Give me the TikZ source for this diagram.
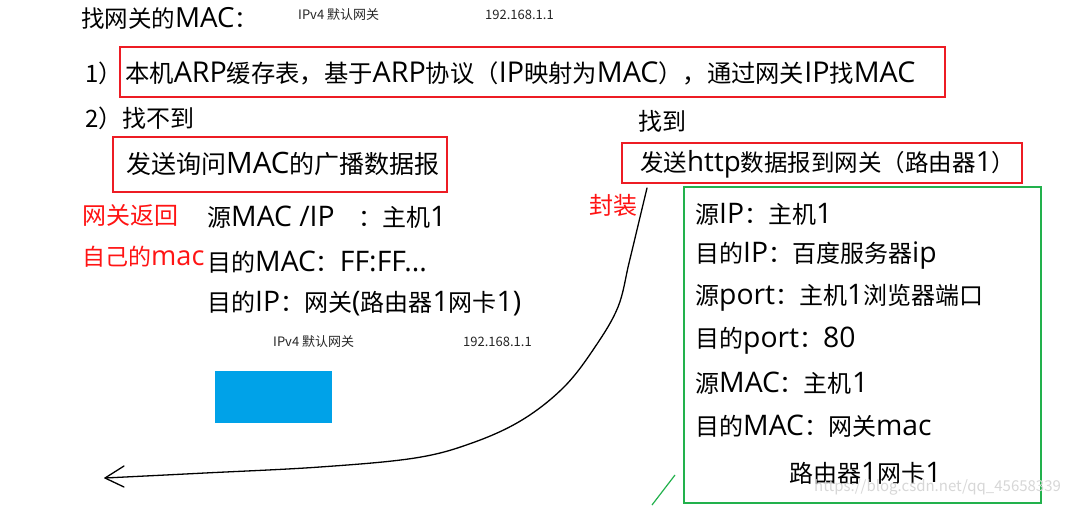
\documentclass[tikz,border=0pt]{standalone}
\usepackage{fontspec}
\setmainfont[Scale=1.18]{Open Sans}
\newfontfamily\cjk{Noto Sans CJK SC}
\newcommand\zh[1]{{\cjk #1}}
\definecolor{boxred}{RGB}{237,28,36}
\definecolor{txtred}{RGB}{255,20,20}
\definecolor{boxgreen}{RGB}{34,177,76}
\definecolor{blueblock}{RGB}{0,162,232}
\definecolor{wmgray}{RGB}{215,215,215}
\begin{document}
\begin{tikzpicture}[x=1pt,y=-1pt,
  big/.style={font=\fontsize{24}{28}\selectfont, anchor=west, inner sep=0pt, text=black},
  small/.style={font=\fontsize{13}{16}\selectfont\cjk, anchor=west, inner sep=0pt, text=black!85},
  redtxt/.style={big, text=txtred},
  redbox/.style={draw=boxred, line width=1.4pt},
  greenbox/.style={draw=boxgreen, line width=1.4pt},
  hand/.style={draw=black, line width=1.3pt, line cap=round, line join=round}]
\useasboundingbox (0,0) rectangle (1067,506);
\fill[white] (0,0) rectangle (1067,506);

% title
\node[big, font=\fontsize{23.5}{28}\selectfont] (title) at (81,18) {\zh{找网关的}MAC\zh{：}};
\node[small] (gw1) at (298,15) {IPv4 默认网关};
\node[small] (ip1) at (485,15) {192.168.1.1};

% step 1
\node[big] (n1) at (85,73) {\zh{1）}};
\draw[redbox] (120,47) rectangle (945,97);
\node[big, font=\fontsize{24.3}{28}\selectfont] (s1) at (125,73) {\zh{本机}ARP\zh{缓存表，基于}ARP\zh{协议（}IP\zh{映射为}MAC\zh{），通过网关}IP\zh{找}MAC};

% step 2
\node[big] (s2) at (85,118) {\zh{2）找不到}};
\draw[redbox] (113,137) rectangle (447,192);
\node[big, font=\fontsize{25}{28}\selectfont] (bc) at (126,164) {\zh{发送询问}MAC\zh{的广播数据报}};

% found
\node[big] (found) at (638,121) {\zh{找到}};
\draw[redbox] (622,143) rectangle (1022,183);
\node[big, font=\fontsize{23.5}{28}\selectfont] (send) at (640,164) {\zh{发送}http\zh{数据报到网关（路由器}1\zh{）}};

% red notes
\node[redtxt] (r1) at (82,215) {\zh{网关返回}};
\node[redtxt, font=\fontsize{23}{28}\selectfont] (r2) at (82,257) {\zh{自己的}mac};
\node[redtxt] (fz) at (589,205) {\zh{封装}};

% broadcast fields
\node[big] (f1) at (207,217) {\zh{源}MAC /IP};
\node[big] (f1b) at (358,217) {\zh{：主机}1};
\node[big] (f2) at (207,262) {\zh{目的}MAC\zh{：}FF:FF...};
\node[big] (f3) at (207,304) {\zh{目的}IP\zh{：网关}(\zh{路由器}1\zh{网卡}1)};
\node[small] (gw2) at (273,342) {IPv4 默认网关};
\node[small] (ip2) at (463,342) {192.168.1.1};

\fill[blueblock] (215,371) rectangle (332,423);

% green box
\draw[greenbox] (684,187) rectangle (1041,503);
\node[big] (g1) at (695,214) {\zh{源}IP\zh{：主机}1};
\node[big] (g2) at (695,256) {\zh{目的}IP\zh{：百度服务器}ip};
\node[big] (g3) at (695,298) {\zh{源}port\zh{：主机}1\zh{浏览器端口}};
\node[big] (g4) at (695,341) {\zh{目的}port\zh{：}80};
\node[big] (g5) at (695,383) {\zh{源}MAC\zh{：主机}1};
\node[big] (g6) at (695,426) {\zh{目的}MAC\zh{：网关}mac};
\node[big] (g7) at (789,473) {\zh{路由器}1\zh{网卡}1};

% watermark
\node[font=\fontsize{15}{18}\selectfont\cjk, anchor=west, inner sep=0pt, text=wmgray] (wm) at (814,487) {https://blog.csdn.net/qq\_45658339};

% hand-drawn arrow
\coordinate (cstart) at (647,188);
\coordinate (tip) at (105,478);
\draw[hand] plot[smooth, tension=0.6] coordinates {(cstart) (641,213) (629,263) (618,307) (595,347) (564,387) (522,420) (472,443) (415,458) (320,467) (205,473) (tip)};
\draw[hand] (124,466) -- (tip) -- (124,487);

% green stroke
\coordinate (gs1) at (652,505);
\coordinate (gs2) at (675,475);
\draw[draw=boxgreen, line width=1.2pt] (gs1) -- (gs2);
\end{tikzpicture}
\end{document}
